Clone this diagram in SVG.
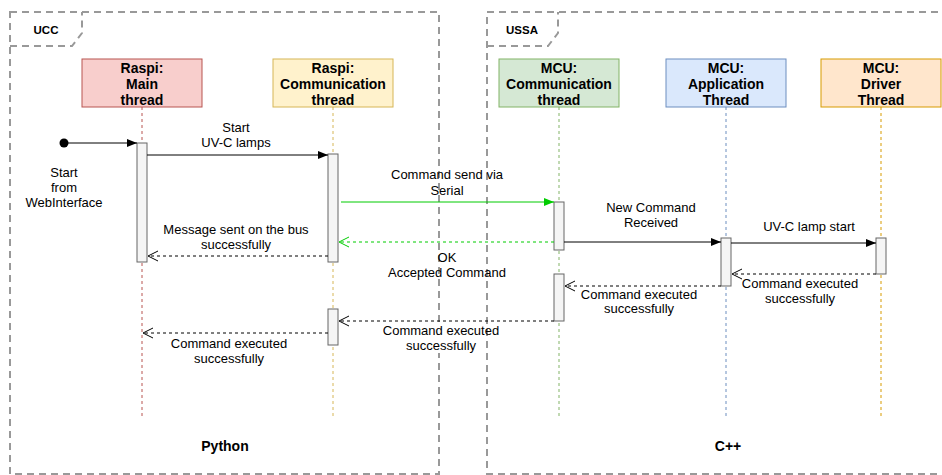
<svg xmlns="http://www.w3.org/2000/svg" width="942" height="475" viewBox="0 0 942 475">
<style>
text{font-family:"Liberation Sans",Arial,Helvetica,sans-serif;fill:#000}
.hdr{font-size:14px;font-weight:bold;text-anchor:middle}
.lbl{font-size:13px;text-anchor:middle}
.frm{fill:none;stroke:#999;stroke-width:2;stroke-dasharray:7 5}
.flbl{font-size:11.5px;font-weight:bold;text-anchor:middle}
.lang{font-size:14px;font-weight:bold;text-anchor:middle}
.life{fill:none;stroke-width:1;stroke-dasharray:3 3}
.act{fill:#f5f5f5;stroke:#666;stroke-width:1}
.msg{fill:none;stroke:#000;stroke-width:1}
.ret{fill:none;stroke:#000;stroke-width:1;stroke-dasharray:3 3}
</style>
<defs>
<marker id="blk" markerUnits="userSpaceOnUse" markerWidth="12" markerHeight="10" refX="10" refY="4" orient="auto"><path d="M0,0 L10,4 L0,8 Z" fill="#000"/></marker>
<marker id="blkG" markerUnits="userSpaceOnUse" markerWidth="12" markerHeight="10" refX="10" refY="4" orient="auto"><path d="M0,0 L10,4 L0,8 Z" fill="#00cc00"/></marker>
<marker id="opn" markerUnits="userSpaceOnUse" markerWidth="12" markerHeight="12" refX="10" refY="6" orient="auto"><path d="M0,1 L10,6 L0,11" fill="none" stroke="#000" stroke-width="1"/></marker>
<marker id="opnG" markerUnits="userSpaceOnUse" markerWidth="12" markerHeight="12" refX="10" refY="6" orient="auto"><path d="M0,1 L10,6 L0,11" fill="none" stroke="#00cc00" stroke-width="1"/></marker>
</defs>
<rect width="942" height="475" fill="#fff"/>

<g id="frame-ucc">
<rect class="frm" x="10" y="12" width="429" height="462"/>
<path class="frm" d="M10,46 L72,46 L82,33 L82,12"/>
<text class="flbl" x="46" y="34">UCC</text>
<text class="lang" x="225" y="451">Python</text>
</g>
<g id="frame-ussa">
<path class="frm" d="M950,12 L487,12 L487,474 L950,474"/>
<path class="frm" d="M487,46 L548,46 L558,33 L558,12"/>
<text class="flbl" x="522" y="34">USSA</text>
<text class="lang" x="728" y="451">C++</text>
</g>

<g id="raspi-main">
<line class="life" x1="142" y1="107" x2="142" y2="416" stroke="#b85450"/>
<rect x="82" y="59" width="120" height="48" fill="#f8cecc" stroke="#b85450"/>
<text class="hdr" x="142" y="73">Raspi:</text>
<text class="hdr" x="142" y="89">Main</text>
<text class="hdr" x="142" y="105">thread</text>
<rect class="act" x="137" y="143" width="10" height="119"/>
</g>
<g id="raspi-comm">
<line class="life" x1="333" y1="107" x2="333" y2="416" stroke="#d6b656"/>
<rect x="273" y="59" width="120" height="48" fill="#fff2cc" stroke="#d6b656"/>
<text class="hdr" x="333" y="73">Raspi:</text>
<text class="hdr" x="333" y="89">Communication</text>
<text class="hdr" x="333" y="105">thread</text>
<rect class="act" x="328" y="154" width="10" height="108"/>
<rect class="act" x="328" y="309" width="10" height="36"/>
</g>
<g id="mcu-comm">
<line class="life" x1="559" y1="107" x2="559" y2="416" stroke="#82b366"/>
<rect x="499" y="59" width="120" height="48" fill="#d5e8d4" stroke="#82b366"/>
<text class="hdr" x="559" y="73">MCU:</text>
<text class="hdr" x="559" y="89">Communication</text>
<text class="hdr" x="559" y="105">thread</text>
<rect class="act" x="554" y="202" width="10" height="48"/>
<rect class="act" x="554" y="274" width="10" height="47"/>
</g>
<g id="mcu-app">
<line class="life" x1="726" y1="107" x2="726" y2="416" stroke="#6c8ebf"/>
<rect x="666" y="59" width="120" height="48" fill="#dae8fc" stroke="#6c8ebf"/>
<text class="hdr" x="726" y="73">MCU:</text>
<text class="hdr" x="726" y="89">Application</text>
<text class="hdr" x="726" y="105">Thread</text>
<rect class="act" x="721" y="238" width="10" height="48"/>
</g>
<g id="mcu-driver">
<line class="life" x1="881" y1="107" x2="881" y2="416" stroke="#d79b00"/>
<rect x="821" y="59" width="120" height="48" fill="#ffe6cc" stroke="#d79b00"/>
<text class="hdr" x="881" y="73">MCU:</text>
<text class="hdr" x="881" y="89">Driver</text>
<text class="hdr" x="881" y="105">Thread</text>
<rect class="act" x="876" y="238" width="10" height="36"/>
</g>

<g id="connectors">
<circle cx="64" cy="143" r="4.5" fill="#000"/>
<line class="msg" x1="64" y1="143" x2="137" y2="143" marker-end="url(#blk)"/>
<text class="lbl" x="64" y="177">Start</text>
<text class="lbl" x="64" y="192">from</text>
<text class="lbl" x="64" y="207">WebInterface</text>

<line class="msg" x1="147" y1="155" x2="328" y2="155" marker-end="url(#blk)"/>
<text class="lbl" x="236" y="132">Start</text>
<text class="lbl" x="236" y="147">UV-C lamps</text>

<line x1="341" y1="202" x2="554" y2="202" stroke="#00cc00" stroke-width="1" marker-end="url(#blkG)"/>
<text class="lbl" x="447" y="179">Command send via</text>
<text class="lbl" x="447" y="195">Serial</text>

<line x1="554" y1="242" x2="339" y2="242" stroke="#00cc00" stroke-width="1" stroke-dasharray="3 3" marker-end="url(#opnG)"/>
<text class="lbl" x="447" y="262">OK</text>
<text class="lbl" x="447" y="277">Accepted Command</text>

<line class="ret" x1="328" y1="256" x2="148" y2="256" marker-end="url(#opn)"/>
<text class="lbl" x="236" y="234">Message sent on the bus</text>
<text class="lbl" x="236" y="249">successfully</text>

<line class="msg" x1="564" y1="242" x2="721" y2="242" marker-end="url(#blk)"/>
<text class="lbl" x="651" y="212">New Command</text>
<text class="lbl" x="651" y="227">Received</text>

<line class="msg" x1="731" y1="243" x2="876" y2="243" marker-end="url(#blk)"/>
<text class="lbl" x="809" y="231">UV-C lamp start</text>

<line class="ret" x1="876" y1="274" x2="732" y2="274" marker-end="url(#opn)"/>
<text class="lbl" x="800" y="288">Command executed</text>
<text class="lbl" x="800" y="303">successfully</text>

<line class="ret" x1="721" y1="286" x2="565" y2="286" marker-end="url(#opn)"/>
<text class="lbl" x="639" y="299">Command executed</text>
<text class="lbl" x="639" y="313">successfully</text>

<line class="ret" x1="554" y1="321" x2="339" y2="321" marker-end="url(#opn)"/>
<rect x="400" y="325" width="84" height="28" fill="#fff"/>
<text class="lbl" x="441" y="335">Command executed</text>
<text class="lbl" x="441" y="350">successfully</text>

<line class="ret" x1="328" y1="333" x2="143" y2="333" marker-end="url(#opn)"/>
<text class="lbl" x="229" y="348">Command executed</text>
<text class="lbl" x="229" y="363">successfully</text>
</g>
</svg>
